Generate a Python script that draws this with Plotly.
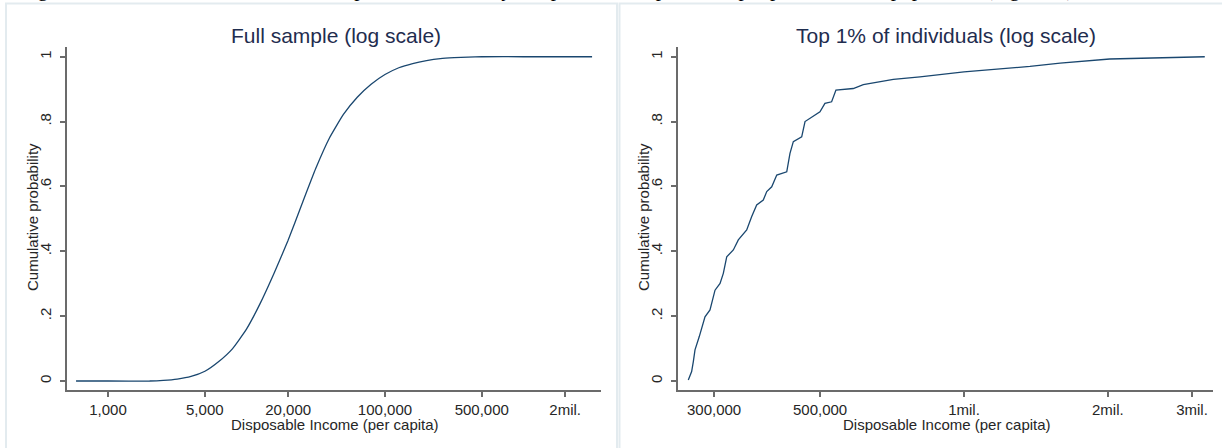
import plotly.graph_objects as go

# ---------------- data ----------------
full_income = [588, 1000, 2000, 2510, 3160, 3980, 5010, 6310, 7940, 10000, 12590,
               15850, 19950, 25120, 31620, 39810, 50120, 63100, 79430, 100000,
               125900, 158500, 199500, 251200, 316200, 398100, 501200, 1000000,
               3130000]
full_cdf = [0.0, 0.0, 0.0, 0.002, 0.006, 0.014, 0.03, 0.06, 0.10, 0.16, 0.24,
            0.333, 0.433, 0.545, 0.655, 0.75, 0.822, 0.875, 0.915, 0.945,
            0.966, 0.979, 0.988, 0.994, 0.997, 0.999, 1.0, 1.0,
            1.0]

top_income = [265000, 269300, 271500, 273700, 279400, 284900, 287200, 294200,
              301400, 308800, 313700, 318900, 329200, 337200, 351100, 359700,
              368400, 380300, 386700, 396100, 405800, 425800, 432500, 439500,
              457600, 465000, 499700, 511800, 528600, 539700, 586700, 615700,
              667400, 711600, 809100, 1000000, 1374000, 1589000, 2018000,
              2570000, 3190000]
top_cdf = [0.003, 0.029, 0.06, 0.096, 0.137, 0.183, 0.198, 0.219,
           0.28, 0.301, 0.332, 0.383, 0.404, 0.435, 0.466, 0.507,
           0.543, 0.558, 0.584, 0.599, 0.635, 0.645, 0.702, 0.738,
           0.753, 0.80, 0.83, 0.856, 0.861, 0.897, 0.902, 0.914,
           0.923, 0.93, 0.938, 0.953, 0.97, 0.98, 0.993,
           0.997, 1.0]

y_ticks = [0, 0.2, 0.4, 0.6, 0.8, 1]
y_ticktext = ["0", ".2", ".4", ".6", ".8", "1"]
full_xticks = [1000, 5000, 20000, 100000, 500000, 2000000]
full_xticktext = ["1,000", "5,000", "20,000", "100,000", "500,000", "2mil."]
top_xticks = [300000, 500000, 1000000, 2000000, 3000000]
top_xticktext = ["300,000", "500,000", "1mil.", "2mil.", "3mil."]

panel_titles = ["Full sample (log scale)", "Top 1% of individuals (log scale)"]
x_title = "Disposable Income (per capita)"
y_title = "Cumulative probability"
caption = ("Figure 4: Cumulative distribution of disposable income by sample: "
           "full sample and top 1 percent of the population (log scale), 2012")

# ---------------- figure ----------------
W, H = 1222, 448
LINE = "#1a476f"
AXC = "#6b6b6b"
TXT = "#262626"
TITLEC = "#1f2d4f"
FONT = "Liberation Sans, Arial, sans-serif"

def px(x):
    return x / W

def py(y):
    return 1 - y / H

fig = go.Figure()
fig.add_trace(go.Scatter(x=full_income, y=full_cdf, mode="lines",
                         line=dict(color=LINE, width=1.3, shape="spline", smoothing=0.4),
                         xaxis="x", yaxis="y", showlegend=False))
fig.add_trace(go.Scatter(x=top_income, y=top_cdf, mode="lines",
                         line=dict(color=LINE, width=1.3),
                         xaxis="x2", yaxis="y2", showlegend=False))

ydom = [py(390), py(47)]
yrange = [-0.0278, 1.030]

common_x = dict(type="log", showline=True, linecolor=AXC, linewidth=1.5,
                ticks="outside", ticklen=5, tickcolor=AXC, tickwidth=1.5,
                showgrid=False, zeroline=False,
                tickfont=dict(family=FONT, size=15, color=TXT))
common_y = dict(showline=True, linecolor=AXC, linewidth=1.5,
                ticks="outside", ticklen=5, tickcolor=AXC, tickwidth=1.5,
                showgrid=False, zeroline=False, tickangle=-90,
                ticklabelstandoff=3,
                tickvals=y_ticks, ticktext=y_ticktext, range=yrange,
                tickfont=dict(family=FONT, size=15, color=TXT))

fig.update_layout(
    width=W, height=H,
    margin=dict(l=0, r=0, t=0, b=0),
    paper_bgcolor="white", plot_bgcolor="white",
    xaxis=dict(domain=[px(67), px(601)], range=[2.704, 6.56],
               tickvals=full_xticks, ticktext=full_xticktext,
               anchor="y", **common_x),
    yaxis=dict(domain=ydom, anchor="x", **common_y),
    xaxis2=dict(domain=[px(678), px(1213)], range=[5.4017, 6.521],
                tickvals=top_xticks, ticktext=top_xticktext,
                anchor="y2", **common_x),
    yaxis2=dict(domain=ydom, anchor="x2", **common_y),
)

# panel borders
BORDER = "#e3ebef"
fig.add_shape(type="rect", xref="paper", yref="paper",
              x0=px(6), x1=px(617), y0=-0.05, y1=py(3.5),
              line=dict(color=BORDER, width=2), fillcolor="rgba(0,0,0,0)")
fig.add_shape(type="rect", xref="paper", yref="paper",
              x0=px(619.5), x1=1.05, y0=-0.05, y1=py(3.5),
              line=dict(color=BORDER, width=2), fillcolor="rgba(0,0,0,0)")

# titles and axis titles
for cx, t in zip([336, 946], panel_titles):
    fig.add_annotation(x=px(cx), y=py(35), xref="paper", yref="paper",
                       text=t, showarrow=False, xanchor="center", yanchor="middle",
                       font=dict(family=FONT, size=21, color=TITLEC))
for cx in [334.5, 946.5]:
    fig.add_annotation(x=px(cx), y=py(424), xref="paper", yref="paper",
                       text=x_title, showarrow=False, xanchor="center", yanchor="middle",
                       font=dict(family=FONT, size=15, color=TXT))
for cx in [32, 643]:
    fig.add_annotation(x=px(cx), y=py(217), xref="paper", yref="paper",
                       text=y_title, showarrow=False, textangle=-90,
                       xanchor="center", yanchor="middle",
                       font=dict(family=FONT, size=15, color=TXT))

# clipped caption line from the surrounding document (only descenders show)
fig.add_annotation(x=px(18), y=py(3.5), xref="paper", yref="paper",
                   text=caption, showarrow=False, xanchor="left", yanchor="bottom",
                   font=dict(family="Liberation Serif, Times New Roman, serif",
                             size=21, color="black"))

fig.write_html("out.html", config={"displayModeBar": False},
               post_script="document.body.style.margin='0px';")
